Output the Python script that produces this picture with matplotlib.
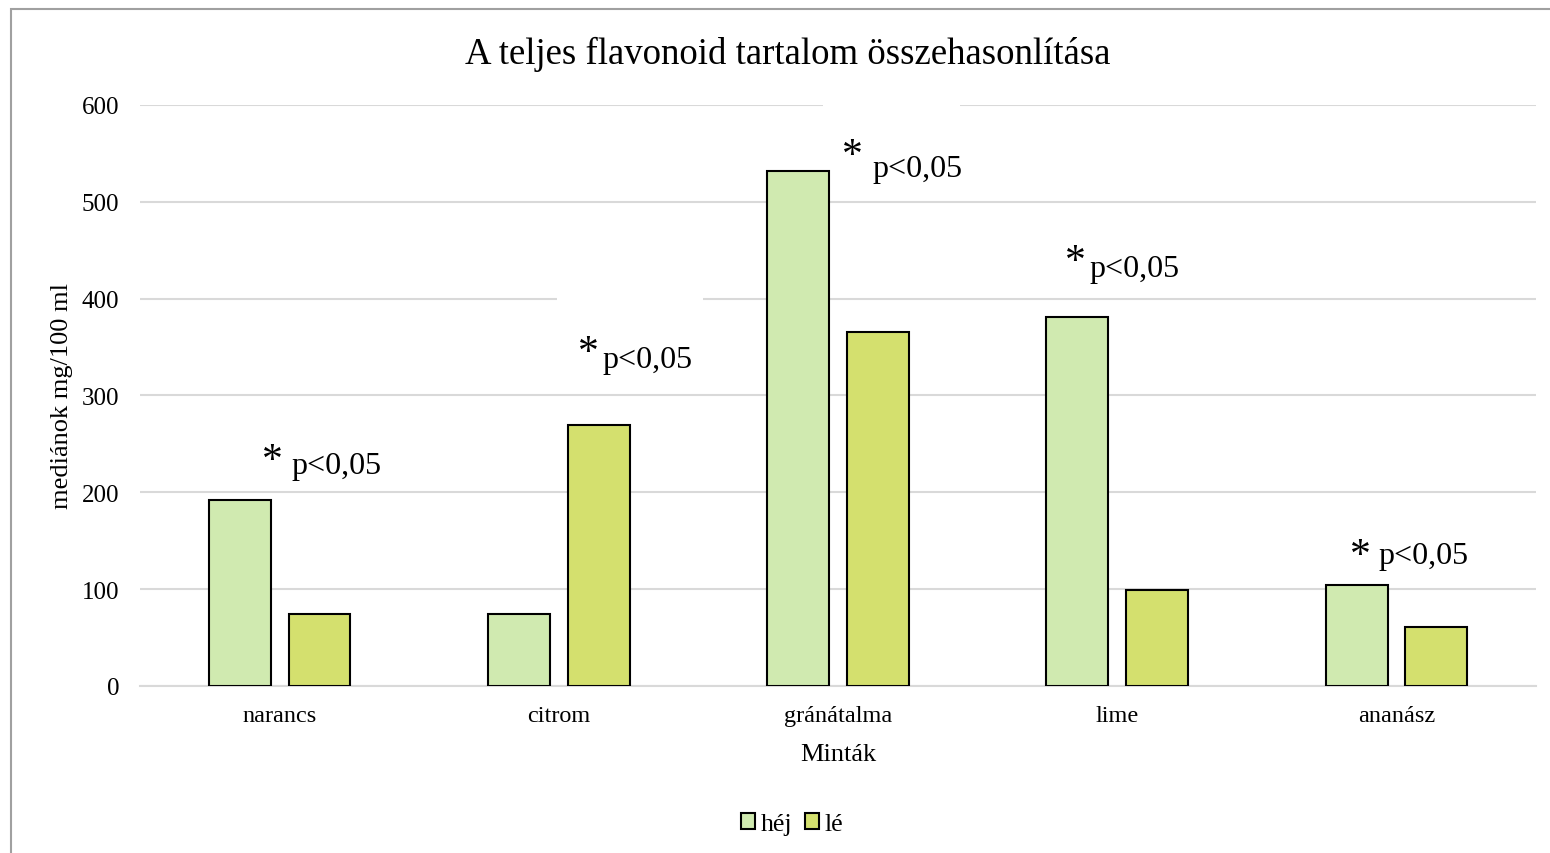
import matplotlib.pyplot as plt
import numpy as np
from matplotlib.patches import Rectangle

plt.rcParams.update({
    "font.family": ["Liberation Serif", "DejaVu Serif"],
    "font.size": 18,
})

# ---- data ----
categories = ["narancs", "citrom", "gránátalma", "lime", "ananász"]
hej = [192, 74, 532, 381, 104]
le = [74, 269, 366, 99, 61]
sig_label = "p<0,05"

# annotation layout (asterisk x/y, text x/y) in data coords
star_pos = [(-0.027, 233), (1.105, 344), (2.050, 548), (2.852, 438), (3.870, 134)]
text_pos = [(0.041, 228), (1.158, 337), (2.122, 534), (2.899, 431), (3.934, 135)]

HEJ_COLOR = "#D0EAB0"
LE_COLOR = "#D4E06E"
GRID_COLOR = "#D9D9D9"

fig = plt.figure(figsize=(15.5, 8.54), dpi=100)
ax = fig.add_axes([0.0903, 0.1956, 0.9007, 0.6803])

x = np.arange(len(categories))
w = 0.222
off = 0.143
ax.bar(x - off, hej, w, color=HEJ_COLOR, edgecolor="black", linewidth=1.5,
       label="héj", zorder=3)
ax.bar(x + off, le, w, color=LE_COLOR, edgecolor="black", linewidth=1.5,
       label="lé", zorder=3)

ax.set_xlim(-0.5, len(categories) - 0.5)
ax.set_ylim(0, 600)
ax.set_yticks(range(0, 601, 100))
ax.set_xticks(x)
ax.set_xticklabels(categories, fontsize=17.5)
ax.yaxis.grid(True, color=GRID_COLOR, linewidth=1.5, zorder=0)
ax.set_axisbelow(True)
for s in ["top", "right", "left"]:
    ax.spines[s].set_visible(False)
ax.spines["bottom"].set_color(GRID_COLOR)
ax.spines["bottom"].set_linewidth(1.5)
ax.tick_params(length=0)
ax.tick_params(axis="y", pad=15)
ax.tick_params(axis="x", pad=14)

ax.set_ylabel("mediánok mg/100 ml", fontsize=19)
ax.yaxis.set_label_coords(-0.0559, 0.5)
ax.set_xlabel("Minták", fontsize=19)
ax.xaxis.set_label_coords(0.5, -0.117)
ax.xaxis.label.set_va("center")
ax.yaxis.label.set_va("center")

# white text-box backgrounds that break the gridlines
ax.add_patch(Rectangle((0.994, 330), 0.523, 90, facecolor="white",
                       edgecolor="none", zorder=1))
ax.add_patch(Rectangle((1.946, 575), 0.491, 40, facecolor="white",
                       edgecolor="none", zorder=1, clip_on=False))

for (sx, sy), (tx, ty) in zip(star_pos, text_pos):
    ax.text(sx, sy, "*", fontsize=30, ha="center", va="center", zorder=4)
    ax.text(tx, ty, sig_label, fontsize=23, ha="left", va="center", zorder=4)

fig.text(0.508, 0.936, "A teljes flavonoid tartalom összehasonlítása",
         fontsize=26.5, ha="center", va="center")

fig.legend(loc="center", bbox_to_anchor=(0.511, 0.034), ncol=2, frameon=False,
           handlelength=0.55, handleheight=0.55, handletextpad=0.2,
           columnspacing=0.5, fontsize=18.5)

# chart-area border
fig.patches.append(Rectangle((0.0071, -0.05), 1.1, 0.9883 + 0.05,
                             transform=fig.transFigure, facecolor="none",
                             edgecolor="#A0A0A0", linewidth=1.5))

plt.savefig("out.png", dpi=100)
plt.close()
